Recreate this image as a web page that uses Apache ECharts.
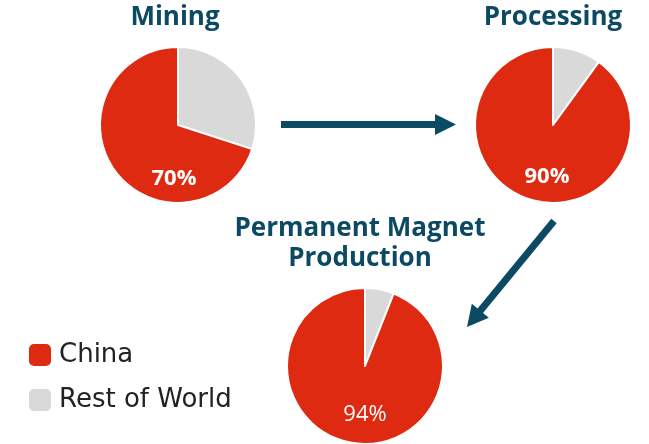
<!DOCTYPE html>
<html><head><meta charset="utf-8">
<script src="https://cdn.jsdelivr.net/npm/echarts@6/dist/echarts.min.js"></script>
<style>html,body{margin:0;padding:0;background:#fff}#c{width:649px;height:444px}</style>
</head><body><div id="c"></div>
<script>
var stages = ['Mining', 'Processing', 'Permanent Magnet\nProduction'];
var categories = ['Rest of World', 'China'];
var chinaShare = [70, 90, 94];
var restShare = [30, 10, 6];
var labelWeights = ['bold', 'bold', 'normal'];

var RED = '#df2a12', GRAY = '#d9d9d9', TEAL = '#0c4a64';
var FONT = '"Open Sans", Roboto, sans-serif';
var centers = [[178, 125], [553, 125], [365, 366]];
var titlePos = [[175, 18], [553, 18], [360, 244]];
var pctPos = [[174, 179], [547, 177], [365, 415]];
var R = 78;

var chart = echarts.init(document.getElementById('c'), null, {renderer: 'canvas'});
var series = stages.map(function (s, i) {
  return {
    type: 'pie', name: s, center: centers[i], radius: [0, R],
    startAngle: 90, clockwise: true, silent: true, animation: false,
    label: {show: false}, labelLine: {show: false},
    itemStyle: {borderColor: '#fff', borderWidth: 2},
    data: [
      {name: categories[0], value: restShare[i], itemStyle: {color: GRAY}},
      {name: categories[1], value: chinaShare[i], itemStyle: {color: RED}}
    ]
  };
});

var graphics = [];
stages.forEach(function (s, i) {
  graphics.push({type: 'text', x: titlePos[i][0], y: titlePos[i][1], z: 10,
    style: {text: s, fill: TEAL, font: 'bold 26px ' + FONT, textAlign: 'center', textVerticalAlign: 'middle', lineHeight: 30}});
  graphics.push({type: 'text', x: pctPos[i][0], y: pctPos[i][1], z: 10,
    style: {text: chinaShare[i] + '%', fill: '#fff', font: labelWeights[i] + ' 22px ' + FONT, textAlign: 'center', textVerticalAlign: 'middle'}});
});
// arrows
graphics.push({type: 'line', shape: {x1: 281, y1: 124.5, x2: 437, y2: 124.5}, style: {stroke: TEAL, lineWidth: 7}});
graphics.push({type: 'polygon', shape: {points: [[435, 114], [456, 124.5], [435, 135]]}, style: {fill: TEAL}});
(function () {
  var sx = 554, sy = 221, tx = 467, ty = 327;
  var dx = tx - sx, dy = ty - sy, L = Math.sqrt(dx * dx + dy * dy);
  var ux = dx / L, uy = dy / L, px = -uy, py = ux;
  var bx = tx - ux * 21, by = ty - uy * 21;
  graphics.push({type: 'line', shape: {x1: sx, y1: sy, x2: bx + ux * 2, y2: by + uy * 2}, style: {stroke: TEAL, lineWidth: 7}});
  graphics.push({type: 'polygon', shape: {points: [[tx, ty], [bx + px * 11, by + py * 11], [bx - px * 11, by - py * 11]]}, style: {fill: TEAL}});
})();

chart.setOption({
  backgroundColor: '#fff',
  animation: false,
  legend: {
    orient: 'vertical', left: 22, top: 337, itemWidth: 24, itemHeight: 24, itemGap: 19,
    icon: 'roundRect', data: [categories[1], categories[0]], selectedMode: false,
    textStyle: {fontSize: 26, color: '#222', fontFamily: '"DejaVu Sans", sans-serif', padding: [0, 0, 0, 2]}
  },
  series: series,
  graphic: graphics
});
</script></body></html>
